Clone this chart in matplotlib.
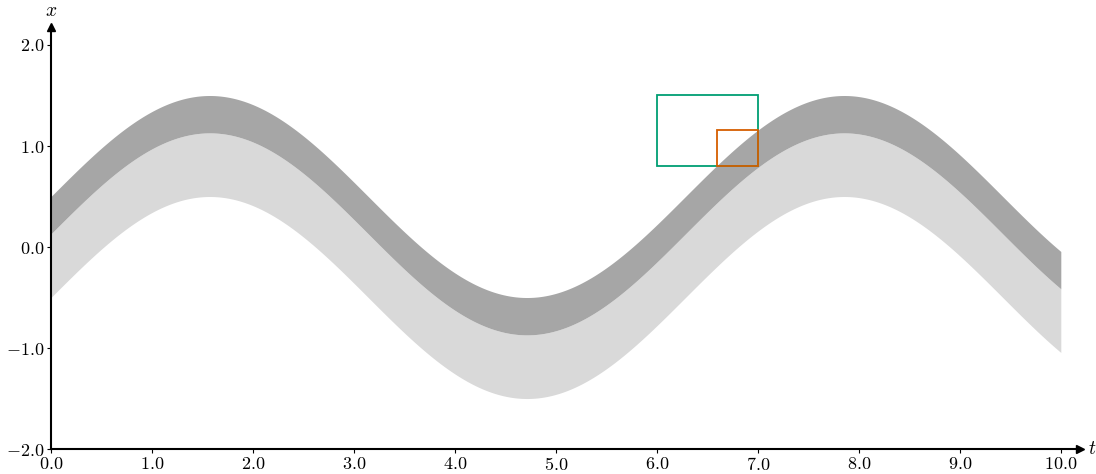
import numpy as np
import matplotlib.pyplot as plt
from matplotlib.patches import Rectangle

plt.rcParams['mathtext.fontset'] = 'cm'
plt.rcParams['font.family'] = 'serif'
plt.rcParams['font.serif'] = ['cmr10', 'DejaVu Serif']
plt.rcParams['axes.unicode_minus'] = False

# band parameters (centre curve sin t)
t = np.linspace(0, 10, 600)
half_width = 0.5
split_offset = 0.13

# boxes: (t0, x0, width, height, colour)
box_t0 = [6.0, 6.6]
box_x0 = [0.8, 0.8]
box_w = [1.0, 0.4]
box_h = [0.7, 0.36]
box_col = ['#009E73', '#D55E00']

xticks = [0, 1, 2, 3, 4, 5, 6, 7, 8, 9, 10]
yticks = [-2, -1, 0, 1, 2]

fig = plt.figure(figsize=(10.96, 4.74), dpi=100)
ax = fig.add_axes([0.0465, 0.0527, 0.9389, 0.8903])

centre = np.sin(t)
ax.fill_between(t, centre - half_width, centre + split_offset, color='#d9d9d9', lw=0)
ax.fill_between(t, centre + split_offset, centre + half_width, color='#a6a6a6', lw=0)

for x0, y0, w, h, c in zip(box_t0, box_x0, box_w, box_h, box_col):
    ax.add_patch(Rectangle((x0, y0), w, h, fill=False, edgecolor=c, lw=1.3, zorder=3))

ax.set_xlim(0, 10.19)
ax.set_ylim(-2, 2.178)
ax.spines['top'].set_visible(False)
ax.spines['right'].set_visible(False)
ax.spines['left'].set_linewidth(1.5)
ax.spines['bottom'].set_linewidth(1.5)

ax.set_xticks(xticks)
ax.set_xticklabels([f'${v:.1f}$' for v in xticks], fontsize=13)
ax.set_yticks(yticks)
ax.set_yticklabels([f'${v:.1f}$' for v in yticks], fontsize=13)
ax.tick_params(direction='out', length=3, width=0.8, pad=2)

ax.plot(1, 0, '>k', ms=6, transform=ax.transAxes, clip_on=False)
ax.plot(0, 1, '^k', ms=6, transform=ax.transAxes, clip_on=False)
ax.text(1.0075, 0.0, '$t$', transform=ax.transAxes, fontsize=14, ha='left', va='center')
ax.text(0.0, 1.017, '$x$', transform=ax.transAxes, fontsize=14, ha='center', va='bottom')

fig.savefig('out.png', dpi=100)
